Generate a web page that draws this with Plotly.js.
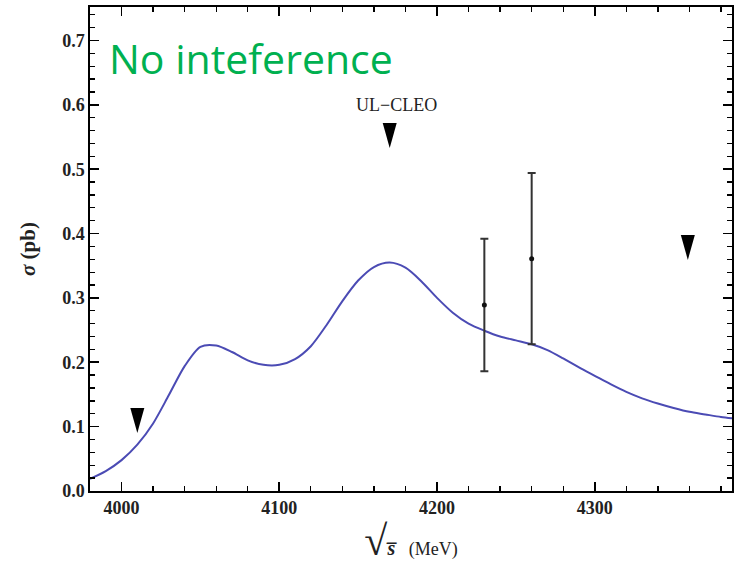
<!DOCTYPE html>
<html>
<head>
<meta charset="utf-8">
<script src="https://cdn.plot.ly/plotly-3.0.1.min.js"></script>
<style>html,body{margin:0;padding:0;background:#fff;}#chart{width:735px;height:579px;}</style>
</head>
<body>
<div id="chart"></div>
<script>
// Model curve (no interference), sqrt(s) in MeV vs sigma in pb
const curveE = [3980,3990,4000,4010,4020,4030,4040,4050,4060,4070,4080,4090,4100,4110,4120,4130,4140,4150,4160,4170,4180,4190,4200,4210,4220,4230,4240,4250,4260,4270,4280,4290,4300,4310,4320,4330,4340,4350,4360,4370,4380,4387];
const curveSigma = [0.019,0.031,0.048,0.072,0.105,0.149,0.194,0.224,0.226,0.216,0.203,0.196,0.196,0.205,0.225,0.258,0.295,0.327,0.348,0.355,0.347,0.326,0.300,0.277,0.260,0.249,0.240,0.234,0.228,0.219,0.206,0.192,0.179,0.166,0.154,0.144,0.136,0.129,0.123,0.119,0.115,0.113];

// Measured points with errors
const dataE = [4230, 4260];
const dataSigma = [0.289, 0.361];
const dataErr = [0.103, 0.133];

// Upper limits (arrow tips)
const ulE = [4010, 4170, 4359];
const ulSigma = [0.090, 0.533, 0.359];
const ulLabelE = 4170;
const ulLabelSigma = 0.60;
const ulLabel = 'UL\u2212CLEO';

const xRange = [3980, 4387];
const yRange = [0, 0.752];

const serif = 'Liberation Serif';
const tickFont = {family: serif, size: 18, color: '#222', weight: 'bold'};

const traces = [
  {
    x: curveE, y: curveSigma, type: 'scatter', mode: 'lines',
    line: {color: '#4b4bb4', width: 2, shape: 'spline', smoothing: 0.8},
    hoverinfo: 'skip', showlegend: false
  },
  {
    x: dataE, y: dataSigma, type: 'scatter', mode: 'markers',
    marker: {color: '#111', size: 5},
    error_y: {type: 'data', array: dataErr, visible: true, color: '#333', thickness: 2, width: 4},
    showlegend: false
  }
];

const shapes = ulE.map((e, i) => ({
  type: 'path', xref: 'x', yref: 'y',
  xsizemode: 'pixel', ysizemode: 'pixel',
  xanchor: e, yanchor: ulSigma[i],
  path: 'M-7,25 L7,25 L0,0 Z',
  fillcolor: '#000', line: {width: 0}
}));

const layout = {
  width: 735, height: 579,
  margin: {l: 90, r: 3, t: 7, b: 88},
  paper_bgcolor: '#fff', plot_bgcolor: '#fff',
  showlegend: false,
  xaxis: {
    range: xRange, tickmode: 'linear', tick0: 4000, dtick: 100,
    ticks: 'inside', ticklen: 9, tickwidth: 1.6, tickcolor: '#000',
    minor: {ticks: 'inside', ticklen: 5, tickwidth: 1.3, tickcolor: '#000', dtick: 20},
    showline: true, linecolor: '#000', linewidth: 1.6, mirror: 'allticks',
    showgrid: false, zeroline: false,
    tickfont: tickFont,
    title: {text: '<span style="font-size:42px">\u221a</span><span style="font-size:20px"><b><i>s\u0305</i></b></span>   (MeV)', font: {family: serif, size: 18, color: '#222'}, standoff: 14}
  },
  yaxis: {
    range: yRange, tickmode: 'linear', tick0: 0, dtick: 0.1, tickformat: '.1f',
    ticks: 'inside', ticklen: 9, tickwidth: 1.6, tickcolor: '#000',
    minor: {ticks: 'inside', ticklen: 5, tickwidth: 1.3, tickcolor: '#000', dtick: 0.02},
    showline: true, linecolor: '#000', linewidth: 1.6, mirror: 'allticks',
    showgrid: false, zeroline: false,
    tickfont: tickFont,
    title: {text: '<b><i>\u03c3</i> (pb)</b>', font: {family: serif, size: 21, color: '#222'}, standoff: 21}
  },
  shapes: shapes,
  annotations: [
    {
      x: ulLabelE, y: ulLabelSigma, xref: 'x', yref: 'y', text: ulLabel, showarrow: false,
      xshift: 7,
      font: {family: serif, size: 18, color: '#222'}
    },
    {
      x: 0.026, y: 0.895, xref: 'paper', yref: 'paper', xanchor: 'left', yanchor: 'middle',
      text: 'No inteference', showarrow: false,
      font: {family: 'Open Sans', size: 41, color: '#00b050'}
    }
  ]
};

Plotly.newPlot('chart', traces, layout, {displayModeBar: false, staticPlot: true});
</script>
</body>
</html>
